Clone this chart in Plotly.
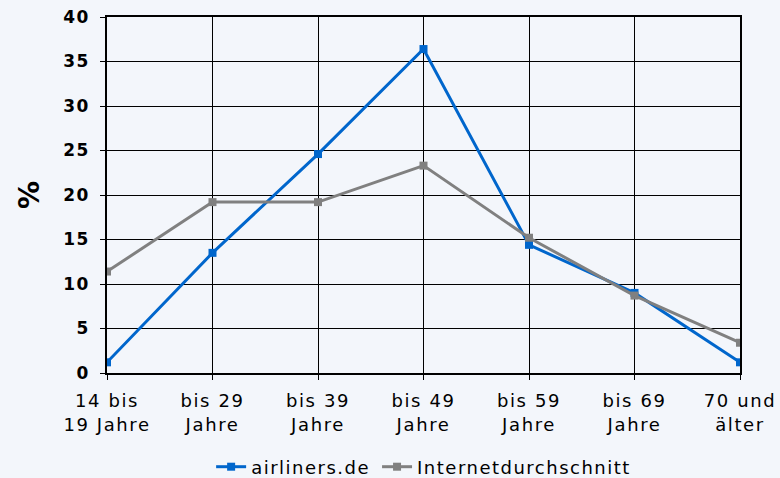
import plotly.graph_objects as go

categories = ["14 bis<br>19 Jahre", "bis 29<br>Jahre", "bis 39<br>Jahre", "bis 49<br>Jahre",
              "bis 59<br>Jahre", "bis 69<br>Jahre", "70 und<br>älter"]
airliners = [1.2, 13.5, 24.6, 36.4, 14.4, 9.0, 1.2]
internet = [11.4, 19.2, 19.2, 23.3, 15.2, 8.7, 3.4]
y_ticks = [0, 5, 10, 15, 20, 25, 30, 35, 40]

fig = go.Figure()
fig.add_trace(go.Scatter(x=categories, y=airliners, name="airliners.de", mode="lines+markers",
                         line=dict(color="#0066CC", width=3),
                         marker=dict(symbol="square", size=8, color="#0066CC")))
fig.add_trace(go.Scatter(x=categories, y=internet, name="Internetdurchschnitt", mode="lines+markers",
                         line=dict(color="#808080", width=3),
                         marker=dict(symbol="square", size=8, color="#808080")))

fig.update_layout(
    width=780, height=478,
    margin=dict(l=107, r=40, t=17, b=105, autoexpand=False),
    paper_bgcolor="#F3F6FB", plot_bgcolor="#F3F6FB",
    font=dict(family="DejaVu Sans", color="#000000"),
    showlegend=True,
    legend=dict(orientation="h", x=0.5, xanchor="center", yref="container", y=0.023, yanchor="middle",
                font=dict(size=18, family="DejaVu Sans"), bgcolor="rgba(0,0,0,0)"),
)
fig.update_xaxes(type="category", range=[0, 6], showgrid=True, gridcolor="#000000", gridwidth=1,
                 showline=True, linecolor="#000000", linewidth=1.5, mirror=True,
                 ticks="outside", ticklen=5, tickcolor="#000000", ticklabelstandoff=6,
                 tickfont=dict(size=18, family="DejaVu Sans"))
fig.update_yaxes(range=[0, 40], tickvals=y_ticks, showgrid=True, gridcolor="#000000", gridwidth=1,
                 showline=True, linecolor="#000000", linewidth=1.5, mirror=True,
                 ticks="outside", ticklen=5, tickcolor="#000000", zeroline=False, ticklabelstandoff=7,
                 tickfont=dict(size=17, family="DejaVu Sans", weight="bold"),
                 title=dict(text="<b>%</b>", font=dict(size=28, family="DejaVu Sans"), standoff=18))

post = """
document.body.style.margin='0';document.body.style.overflow='hidden';
document.querySelectorAll('.xtick text').forEach(function(t){t.style.letterSpacing='1.6px';});
document.querySelectorAll('.ytick text').forEach(function(t){t.style.letterSpacing='1.5px';});
var sb = document.querySelector('.legend .scrollbox');
if (sb) { sb.removeAttribute('clip-path'); }
var items = document.querySelectorAll('.legend .traces');
var x = 0, ys = [];
items.forEach(function(g){
  var t = g.querySelector('.legendtext');
  t.style.letterSpacing = '1.5px';
  var m = /translate\\(([-\\d.]+)[ ,]*([-\\d.]+)?\\)/.exec(g.getAttribute('transform') || '');
  var y = m && m[2] ? parseFloat(m[2]) : 0;
  g.setAttribute('transform', 'translate(' + x + ',' + y + ')');
  var w = t.getBBox().width;
  x += 40 + w + 7;
});
var total = x - 7 - 5;
var leg = document.querySelector('.legend');
if (leg) {
  var m2 = /translate\\(([-\\d.]+)[ ,]*([-\\d.]+)?\\)/.exec(leg.getAttribute('transform') || '');
  var ly = m2 && m2[2] ? parseFloat(m2[2]) : 0;
  var lx = 423.5 - total / 2 - 5;
  leg.setAttribute('transform', 'translate(' + lx + ',' + ly + ')');
}
"""
fig.write_html("out.html", post_script=post, config={"displayModeBar": False})
